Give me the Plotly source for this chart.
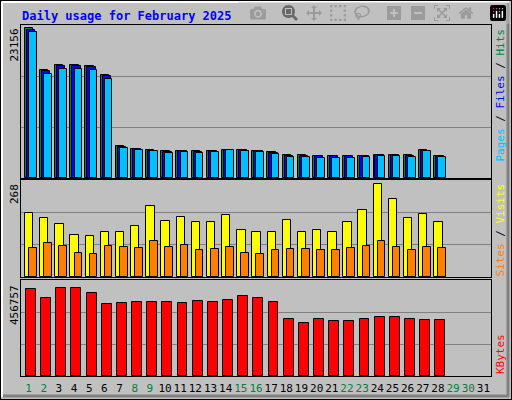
import plotly.graph_objects as go

days = list(range(1, 32))
hits = [23800,17200,18000,18000,17800,16300,5000,4600,4400,4250,4350,4250,4350,4500,4500,4300,4050,3600,3600,3500,3500,3500,3550,3700,3700,3600,4400,3550]
files = [23500,17000,17800,17800,17600,16100,4900,4550,4350,4200,4300,4200,4300,4450,4450,4250,4000,3550,3550,3450,3450,3450,3500,3650,3650,3550,4300,3500]
pages = [23156,16494,17287,17287,17130,15700,4758,4441,4282,3965,4124,3965,4124,4441,4282,4124,3807,3331,3331,3172,3172,3172,3331,3490,3490,3331,4282,3331]
visits = [177,163,146,116,113,124,124,141,196,155,166,152,152,171,130,124,124,157,124,130,124,152,185,256,215,163,174,152]
sites = [80,94,86,66,64,86,83,80,99,83,88,75,77,83,66,64,75,77,77,75,75,80,86,99,83,75,83,80]
kbytes = [433000,385000,437000,437000,414000,357000,361000,366000,366000,366000,361000,371000,366000,376000,399000,385000,366000,285000,262000,285000,271000,271000,285000,295000,295000,285000,280000,280000]
weekend = {1,2,8,9,15,16,22,23,29,30}
ticktext = [f'<span style="color:#008040">{d}</span>' if d in weekend else str(d) for d in days]

W, H = 512, 400
def px(x): return x / W
def py(y): return 1 - y / H

fig = go.Figure()
n = len(pages)
xs = days[:n]
line = dict(color="black", width=1)
fig.add_bar(x=xs, y=hits, width=0.55, offset=-0.25, marker=dict(color="#008040", line=line), xaxis="x", yaxis="y")
fig.add_bar(x=xs, y=files, width=0.55, offset=-0.12, marker=dict(color="#0000FF", line=line), xaxis="x", yaxis="y")
fig.add_bar(x=xs, y=pages, width=0.5, offset=0.03, marker=dict(color="#00C0FF", line=line), xaxis="x", yaxis="y")
fig.add_bar(x=xs, y=visits, width=0.55, offset=-0.24, marker=dict(color="#FFFF00", line=line), xaxis="x2", yaxis="y2")
fig.add_bar(x=xs, y=sites, width=0.5, offset=0.03, marker=dict(color="#FF8000", line=line), xaxis="x2", yaxis="y2")
fig.add_bar(x=xs, y=kbytes, width=0.65, offset=-0.17, marker=dict(color="#FF0000", line=line), xaxis="x3", yaxis="y3")

def yax(top, bot, mx):
    r = mx
    return dict(domain=[py(bot), py(top)], range=[0, r], tickvals=[r/3, 2*r/3], showticklabels=False,
                showgrid=True, gridcolor="#808080", gridwidth=1, zeroline=False, fixedrange=True,
                showline=True, linecolor="black", linewidth=1, mirror=True, ticks="")
def xax(anchor, labels):
    return dict(domain=[px(21), px(491)], range=[0.5, 31.5], showgrid=False, zeroline=False,
                showline=True, linecolor="black", linewidth=1, mirror=True, anchor=anchor,
                tickvals=days, ticktext=ticktext if labels else None, showticklabels=labels,
                tickfont=dict(family="DejaVu Sans Mono", size=11, color="black"), ticks="", tickangle=0)

pmax = 23156 * 153 / 146
fig.update_layout(
    width=W, height=H, margin=dict(l=0, r=0, t=0, b=0),
    paper_bgcolor="#C0C0C0", plot_bgcolor="#C0C0C0", showlegend=False, barmode="overlay",
    bargap=0,
    xaxis=xax("y", False), yaxis=yax(25, 178, pmax),
    xaxis2=xax("y2", False), yaxis2=yax(180, 277, 268),
    xaxis3=xax("y3", True), yaxis3=yax(280, 376, 456757 * 96 / 92),
)
fig.update_layout(xaxis3=dict(ticklabelstandoff=2))

mono = "DejaVu Sans Mono"
anns = [
    dict(x=px(20), y=py(16), text="<b>Daily usage for February 2025</b>", font=dict(family=mono, size=12, color="#0000FF"), xanchor="left", yanchor="middle"),
    dict(x=px(14), y=py(27), text="23156", textangle=-90, font=dict(family=mono, size=11, color="black"), xanchor="center", yanchor="top"),
    dict(x=px(14), y=py(182), text="268", textangle=-90, font=dict(family=mono, size=11, color="black"), xanchor="center", yanchor="top"),
    dict(x=px(14), y=py(283), text="456757", textangle=-90, font=dict(family=mono, size=11, color="black"), xanchor="center", yanchor="top"),
    dict(x=px(500), y=py(27), text='<span style="color:#00C0FF">Pages</span> / <span style="color:#0000FF">Files</span> / <span style="color:#008040">Hits</span>', textangle=-90, font=dict(family=mono, size=11, color="black"), xanchor="center", yanchor="top"),
    dict(x=px(500), y=py(182), text='<span style="color:#FF8000">Sites</span> / <span style="color:#FFFF00">Visits</span>', textangle=-90, font=dict(family=mono, size=11, color="black"), xanchor="center", yanchor="top"),
    dict(x=px(500), y=py(376), text='<span style="color:#FF0000">KBytes</span>', textangle=-90, font=dict(family=mono, size=11, color="black"), xanchor="center", yanchor="bottom"),
]
for a in anns:
    a.update(xref="paper", yref="paper", showarrow=False)
fig.update_layout(annotations=anns)

shapes = [
    dict(type="rect", x0=0, y0=0, x1=1, y1=1, line=dict(color="black", width=2)),
    dict(type="line", x0=px(2), y0=py(2), x1=px(509), y1=py(2), line=dict(color="white", width=2)),
    dict(type="line", x0=px(2), y0=py(2), x1=px(2), y1=py(397), line=dict(color="white", width=2)),
    dict(type="line", x0=px(508), y0=py(3), x1=px(508), y1=py(397), line=dict(color="#808080", width=3)),
    dict(type="line", x0=px(3), y0=py(396), x1=px(509), y1=py(396), line=dict(color="#808080", width=3)),
]
for s in shapes:
    s.update(xref="paper", yref="paper", layer="above")
fig.update_layout(shapes=shapes)
fig.write_html("out.html")

with open("out.html", encoding="utf-8") as f:
    html = f.read()
html = html.replace("<head>", "<head><style>html,body{margin:0;padding:0;overflow:hidden}</style>", 1)
with open("out.html", "w", encoding="utf-8") as f:
    f.write(html)
